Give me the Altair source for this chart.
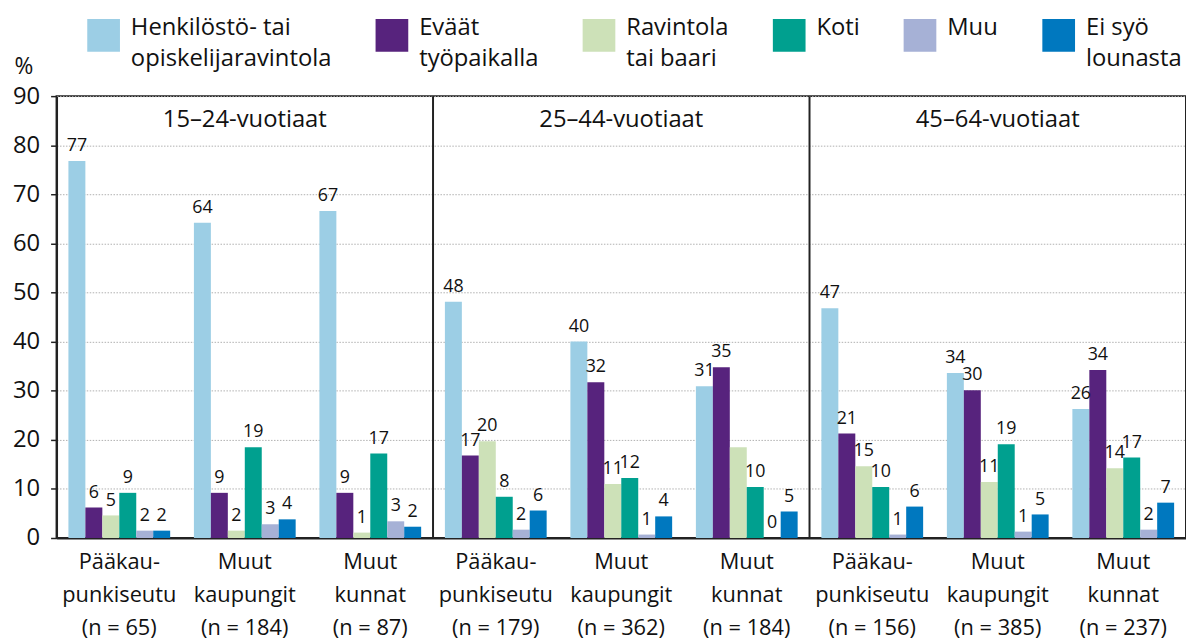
import altair as alt
import pandas as pd

FONT = "Open Sans"

ages = ["15–24-vuotiaat", "25–44-vuotiaat", "45–64-vuotiaat"]
regions = ["Pääkau-|punkiseutu", "Muut|kaupungit", "Muut|kunnat"]
n_values = [[65, 184, 87], [179, 362, 184], [156, 385, 237]]

series_names = [
    "Henkilöstö- tai|opiskelijaravintola",
    "Eväät|työpaikalla",
    "Ravintola|tai baari",
    "Koti|",
    "Muu|",
    "Ei syö|lounasta",
]
colors = ["#9CCEE5", "#57237D", "#CDE1B8", "#00A08F", "#A6B1D6", "#0078BF"]

# values per series, in order of the 9 groups (3 ages x 3 regions)
henk = [76.8, 64.2, 66.6, 48.1, 40.0, 30.9, 46.8, 33.6, 26.3]
evaat = [6.2, 9.2, 9.2, 16.8, 31.7, 34.8, 21.3, 30.1, 34.2]
rav = [4.6, 1.5, 1.1, 19.7, 11.0, 18.5, 14.6, 11.4, 14.2]
koti = [9.2, 18.5, 17.2, 8.4, 12.2, 10.4, 10.4, 19.1, 16.4]
muu = [1.5, 2.8, 3.4, 1.7, 0.7, 0.0, 0.7, 1.3, 1.7]
ei = [1.5, 3.8, 2.3, 5.6, 4.4, 5.4, 6.4, 4.8, 7.2]

henk_lbl = ["77", "64", "67", "48", "40", "31", "47", "34", "26"]
evaat_lbl = ["6", "9", "9", "17", "32", "35", "21", "30", "34"]
rav_lbl = ["5", "2", "1", "20", "11", "", "15", "11", "14"]
koti_lbl = ["9", "19", "17", "8", "12", "10", "10", "19", "17"]
muu_lbl = ["2", "3", "3", "2", "1", "0", "1", "1", "2"]
ei_lbl = ["2", "4", "2", "6", "4", "5", "6", "5", "7"]

values = [henk, evaat, rav, koti, muu, ei]
labels = [henk_lbl, evaat_lbl, rav_lbl, koti_lbl, muu_lbl, ei_lbl]

group_keys = []
for ai in range(3):
    for ri in range(3):
        group_keys.append(f"{regions[ri]}|(n = {n_values[ai][ri]})")

rows = []
for si, s in enumerate(series_names):
    for gi, g in enumerate(group_keys):
        rows.append({"grp": g, "series": s, "value": values[si][gi], "label": labels[si][gi]})
df = pd.DataFrame(rows)

titles_df = pd.DataFrame({"grp": [group_keys[1], group_keys[4], group_keys[7]], "title": ages})
div_df = pd.DataFrame({"grp": [group_keys[3], group_keys[6]]})

W, H = 1140, 446

xenc = alt.X(
    "grp:N",
    sort=group_keys,
    scale=alt.Scale(paddingInner=0, paddingOuter=0),
    axis=alt.Axis(
        title=None,
        labelExpr="split(datum.label, '|')",
        labelAngle=0,
        ticks=False,
        domainColor="#222",
        domainWidth=2,
        labelFontSize=22,
        labelLineHeight=33,
        labelPadding=14,
        labelBaseline="top",
        labelLimit=300,
        labelColor="#111",
    ),
)
xoff = alt.XOffset("series:N", sort=series_names,
                   scale=alt.Scale(paddingOuter=0.7, paddingInner=0))
yenc = alt.Y(
    "value:Q",
    scale=alt.Scale(domain=[0, 90], nice=False),
    axis=alt.Axis(
        values=list(range(0, 91, 10)),
        title="%",
        titleAngle=0,
        titleX=-43,
        titleY=-41,
        titleAlign="left",
        titleBaseline="top",
        titleFontSize=23,
        titleFontWeight="normal",
        titleColor="#111",
        grid=True,
        gridDash=[1.5, 1.5],
        gridColor="#b0b0b0",
        gridWidth=1,
        domainColor="#222",
        domainWidth=2,
        tickColor="#222",
        tickSize=6,
        tickWidth=1.5,
        labelFontSize=24,
        labelPadding=11,
        labelColor="#111",
    ),
)

bars = alt.Chart(df).mark_bar().encode(
    x=xenc,
    xOffset=xoff,
    y=yenc,
    color=alt.Color(
        "series:N",
        sort=series_names,
        scale=alt.Scale(domain=series_names, range=colors),
        legend=alt.Legend(
            title=None,
            orient="none",
            legendX=31,
            legendY=-78,
            direction="horizontal",
            symbolType="square",
            symbolSize=1089,
            symbolStrokeWidth=0,
            labelExpr="split(datum.label, '|')",
            labelFontSize=24,
            labelLimit=400,
            labelOffset=11,
            labelBaseline="alphabetic",
            labelColor="#111",
            columnPadding=44,
            padding=0,
        ),
    ),
)

text = alt.Chart(df).mark_text(baseline="bottom", dy=-6, fontSize=18, color="#111").encode(
    x=alt.X("grp:N", sort=group_keys),
    xOffset=xoff,
    y=alt.Y("value:Q"),
    text="label:N",
)

titles = alt.Chart(titles_df).mark_text(baseline="top", fontSize=24, color="#111", dy=12).encode(
    x=alt.X("grp:N", sort=group_keys),
    y=alt.value(0),
    text="title:N",
)

dividers = alt.Chart(div_df).mark_rule(color="#222", strokeWidth=2).encode(
    x=alt.X("grp:N", sort=group_keys, bandPosition=0),
    y=alt.value(0),
    y2=alt.value(H),
)

chart = (
    alt.layer(bars, text, titles, dividers)
    .properties(width=W, height=H, padding={"left": 4, "top": 8, "right": 0, "bottom": 0})
    .configure(font=FONT, style={"guide-label": {"lineHeight": 31}})
    .configure_view(stroke="#222", strokeWidth=2)
)

chart.save("out.html", embed_options={"renderer": "svg", "actions": False})
